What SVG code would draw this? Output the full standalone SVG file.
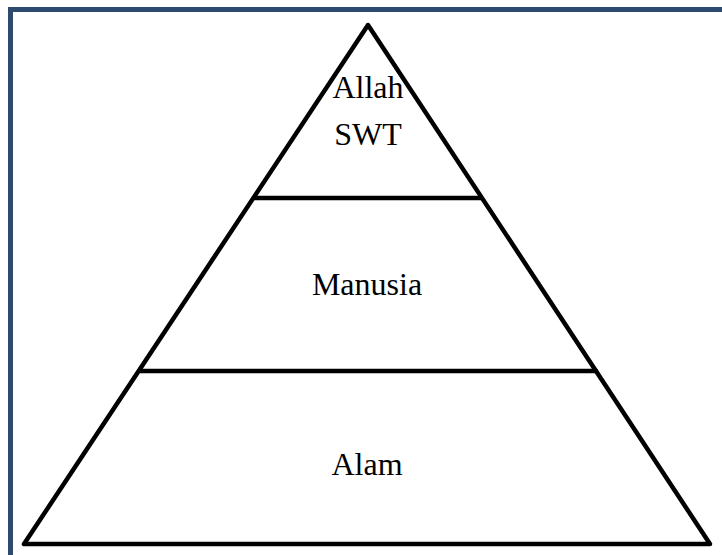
<svg xmlns="http://www.w3.org/2000/svg" width="722" height="555" viewBox="0 0 722 555">
<style>
.ln{fill:none;stroke:#000;stroke-width:4.5;stroke-linejoin:round;stroke-linecap:round}
.t{font-family:"Liberation Serif","Times New Roman",serif;font-size:32px;fill:#000;text-anchor:middle}
</style>
<rect x="0" y="0" width="722" height="555" fill="#fff"/>
<rect x="10.5" y="9.5" width="730" height="560" fill="none" stroke="#2E4A6E" stroke-width="5"/>
<g id="pyramid">
<polygon class="ln" points="368,25 24,544 710,544"/>
</g>
<g id="connectors">
<line class="ln" x1="255" y1="198" x2="481" y2="198"/>
<line class="ln" x1="140" y1="371" x2="596" y2="371"/>
</g>
<g id="allah"><text class="t" x="368" y="98">Allah</text><text class="t" x="368" y="145">SWT</text></g>
<g id="manusia"><text class="t" x="367" y="295">Manusia</text></g>
<g id="alam"><text class="t" x="367" y="475">Alam</text></g>
</svg>
